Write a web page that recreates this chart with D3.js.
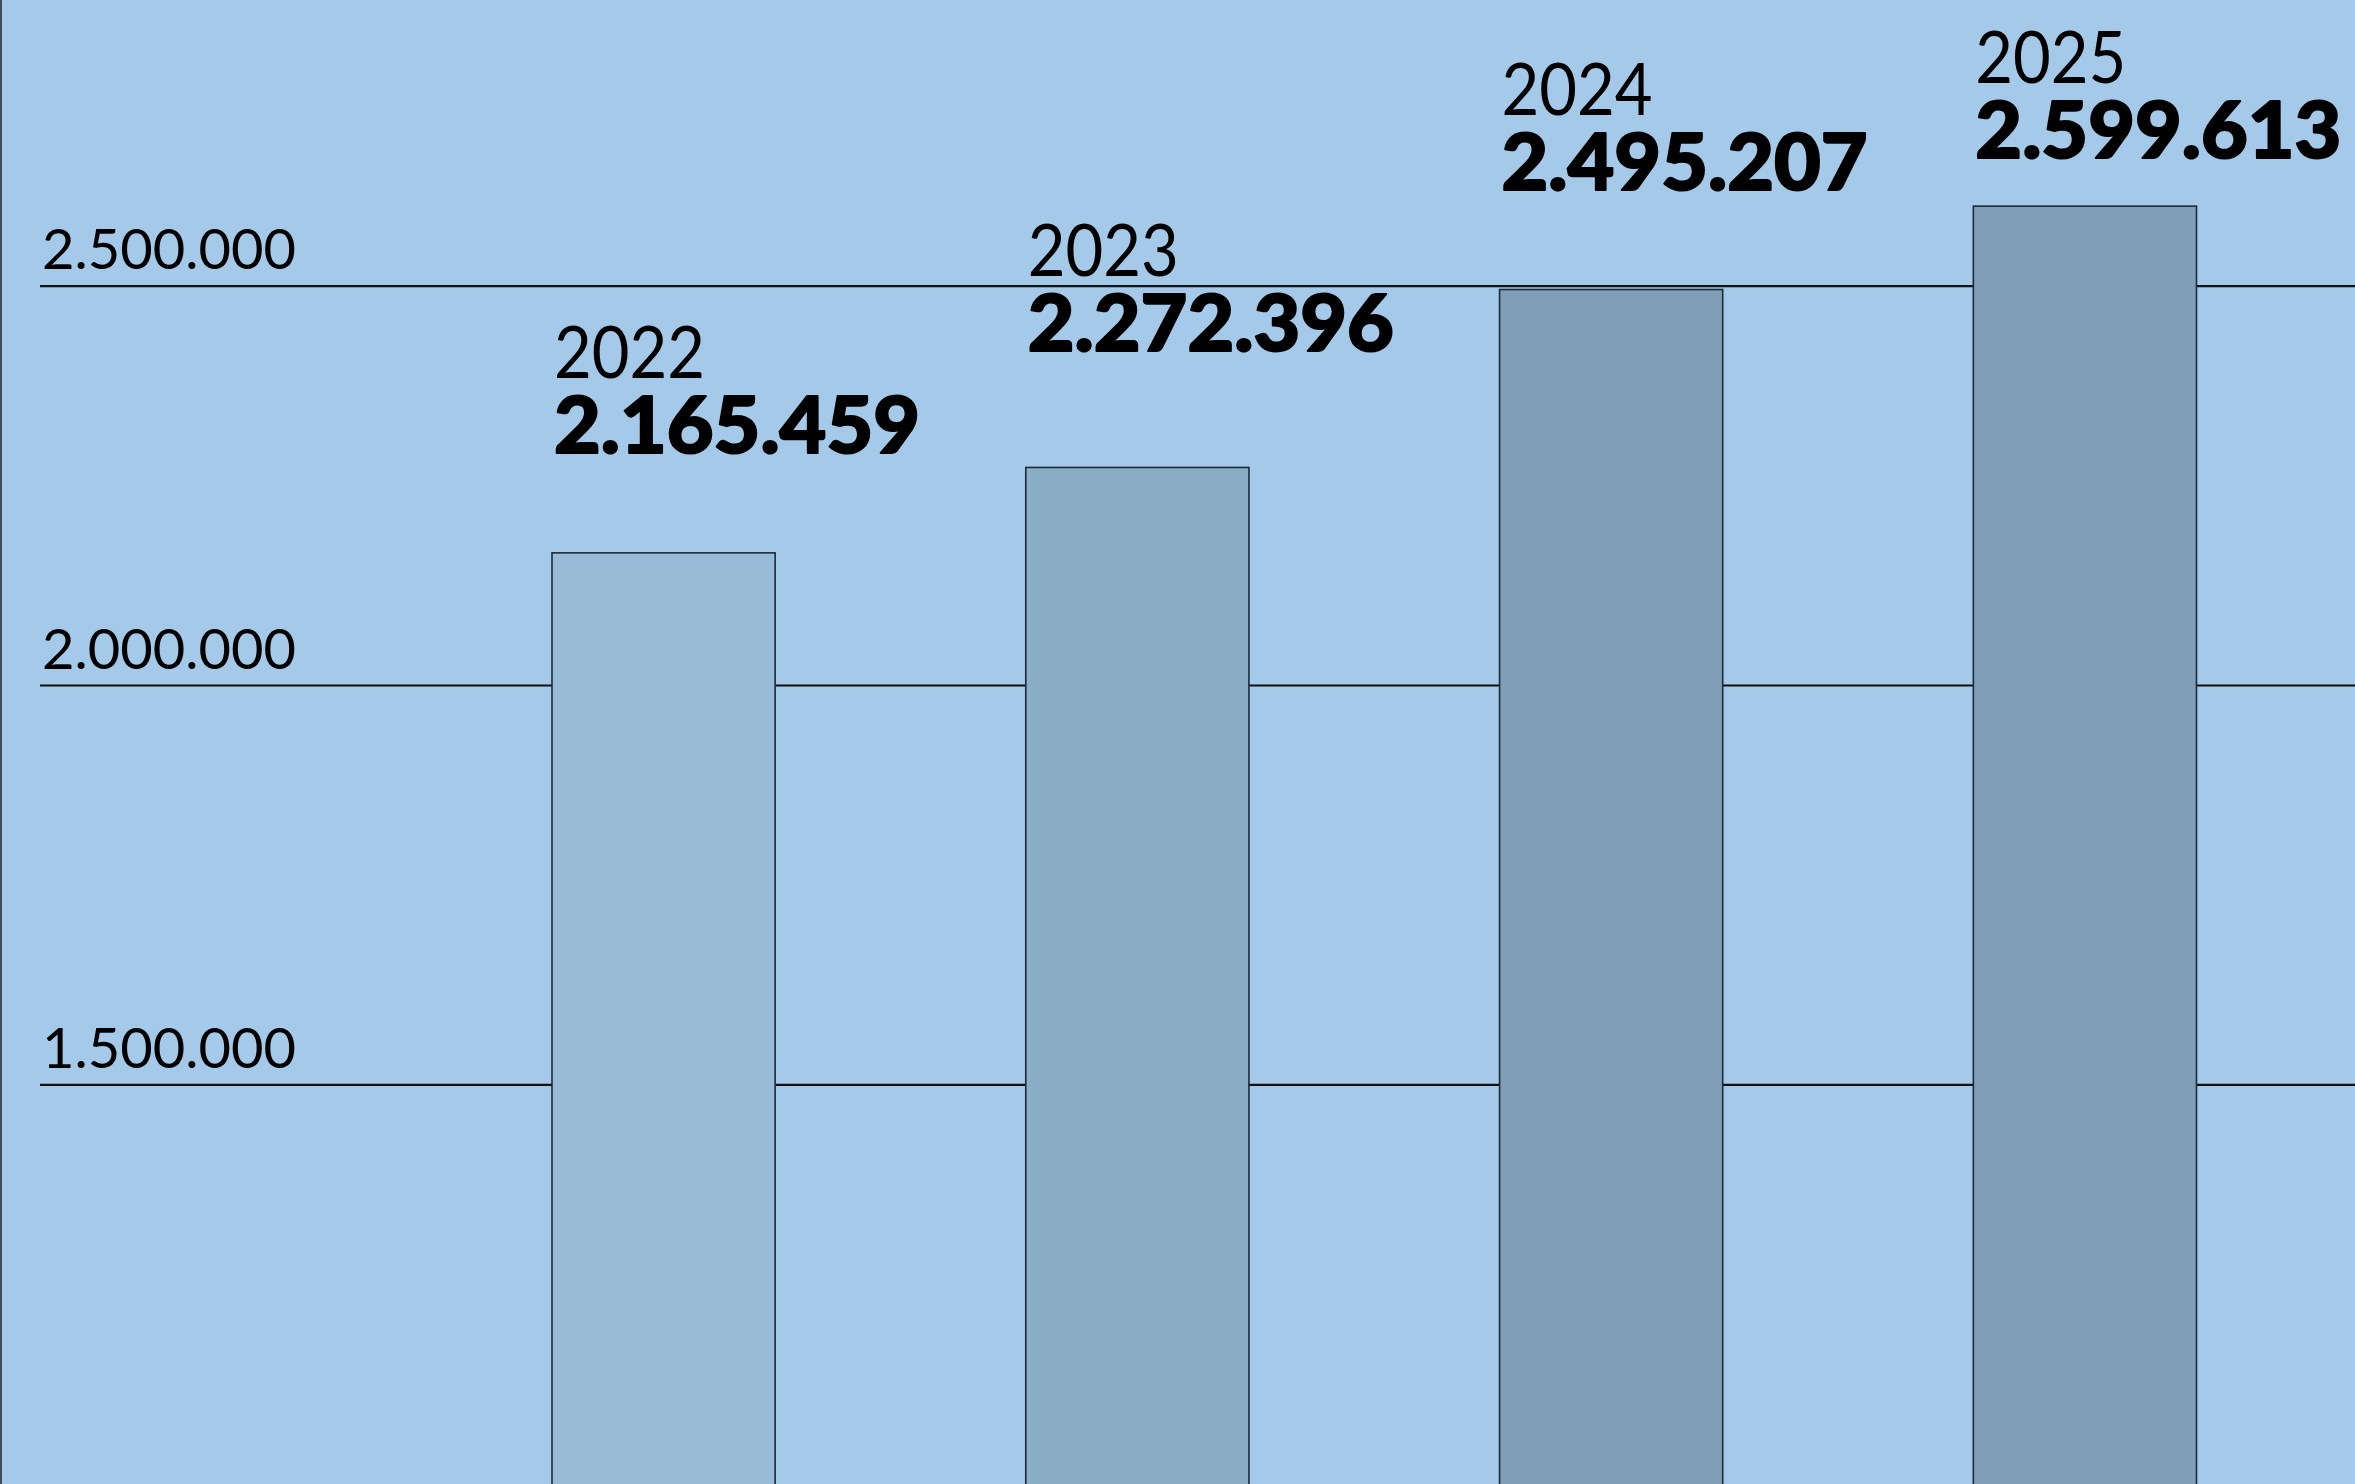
<!DOCTYPE html>
<html>
<head>
<meta charset="utf-8">
<script src="https://cdn.jsdelivr.net/npm/d3@7"></script>
<style>
  html, body { margin: 0; padding: 0; background: #a4c9e9; overflow: hidden; }
  svg { display: block; }
</style>
</head>
<body>
<svg id="chart"></svg>
<script>
// ---- data ----
const years = ["2022", "2023", "2024", "2025"];
const values = [2165459, 2272396, 2495207, 2599613];
const tickValues = [1500000, 2000000, 2500000];
const barColors = ["#98bcd8", "#8baec7", "#809eb6", "#809eb6"];

// ---- layout ----
const W = 2355, H = 1484;
const svg = d3.select("#chart").attr("width", W).attr("height", H);

const locale = d3.formatLocale({ decimal: ",", thousands: ".", grouping: [3], currency: ["", "€"] });
const fmt = locale.format(",d");

const x = d3.scaleBand().domain(years).range([552, 2196.5]).paddingInner(0.529).paddingOuter(0);
const y = d3.scaleLinear().domain([1500000, 2500000]).range([1084.3, 285.7]);

svg.append("rect").attr("width", W).attr("height", H).attr("fill", "#a4c9e9");

// gridlines + tick labels via axis
const axis = d3.axisLeft(y).tickValues(tickValues).tickSize(-(W - 40)).tickFormat(fmt);
const gAxis = svg.append("g").attr("transform", "translate(40,0)").call(axis);
gAxis.select(".domain").remove();
gAxis.selectAll(".tick line").attr("stroke", "#111").attr("stroke-width", 2.2);
gAxis.selectAll(".tick text")
  .attr("x", 2).attr("dy", 0).attr("y", -17)
  .attr("text-anchor", "start")
  .attr("fill", "#000")
  .style("font-family", "Lato, 'Liberation Sans', sans-serif")
  .style("font-weight", 400)
  .style("font-size", "57px")
  .attr("textLength", 254).attr("lengthAdjust", "spacingAndGlyphs");

// left axis line
svg.append("line").attr("x1", 1).attr("x2", 1).attr("y1", 0).attr("y2", H)
  .attr("stroke", "#3b4c5c").attr("stroke-width", 2);

// bars
svg.append("g").selectAll("rect").data(years).join("rect")
  .attr("x", d => x(d))
  .attr("width", x.bandwidth())
  .attr("y", (d, i) => y(values[i]))
  .attr("height", (d, i) => y(0) - y(values[i]))
  .attr("fill", (d, i) => barColors[i])
  .attr("stroke", "#1c2b3a")
  .attr("stroke-width", 1.6);

// label positions: above bar, kept on screen, year line kept clear of gridlines
const labelPos = values.map(v => {
  let vb = Math.max(y(v) - 100, 158);
  let yb = vb - 75;
  tickValues.forEach(t => {
    const gy = y(t);
    if (gy > yb - 55 && gy < yb + 5) { yb = gy - 10; vb = yb + 75; }
  });
  return { yb, vb };
});

const labels = svg.append("g").selectAll("text").data(years).join("text")
  .attr("fill", "#000")
  .style("font-family", "Lato, 'Liberation Sans', sans-serif");
labels.append("tspan")
  .attr("x", d => x(d) + 2)
  .attr("y", (d, i) => labelPos[i].yb)
  .style("font-weight", 400)
  .style("font-size", "72px")
  .attr("textLength", 151).attr("lengthAdjust", "spacingAndGlyphs")
  .text(d => d);
labels.append("tspan")
  .attr("x", d => x(d) + 2)
  .attr("y", (d, i) => labelPos[i].vb)
  .style("font-weight", 900)
  .style("font-size", "78px")
  .attr("stroke", "#000").attr("stroke-width", 2).attr("stroke-linejoin", "round")
  .attr("textLength", 366).attr("lengthAdjust", "spacingAndGlyphs")
  .text((d, i) => fmt(values[i]));
</script>
</body>
</html>
